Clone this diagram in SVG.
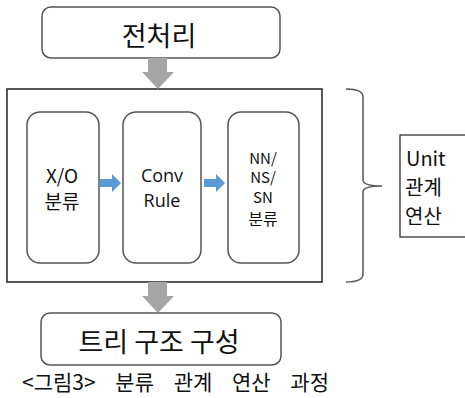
<svg xmlns="http://www.w3.org/2000/svg" width="465" height="398" viewBox="0 0 465 398">
<style>
  .t { font-family: "Noto Sans CJK KR", "Noto Sans", sans-serif; fill: #111; }
  .l { font-family: "Open Sans", "Noto Sans", sans-serif; fill: #111; }
  .box { fill: #fff; stroke: #555; stroke-width: 1.5; }
  .frame { fill: #fff; stroke: #222; stroke-width: 1.5; }
  .gray { fill: #a5a5a5; }
  .blue { fill: #5b9bd5; }
</style>
<rect width="465" height="398" fill="#fff"/>
<g id="frame"><rect class="frame" x="7" y="89" width="315" height="193"/></g>
<g id="preprocess">
  <rect class="box" x="42" y="7" width="238" height="51" rx="9"/>
  <text class="t" x="159" y="46" font-size="27" text-anchor="middle">전처리</text>
</g>
<g id="xo">
  <rect class="box" x="27" y="112" width="72" height="151" rx="13"/>
  <text class="t" x="62" y="183" font-size="19" text-anchor="middle">X/O</text>
  <text class="t" x="62" y="209" font-size="19" text-anchor="middle">분류</text>
</g>
<g id="conv">
  <rect class="box" x="123" y="112" width="78" height="151" rx="13"/>
  <text class="l" x="162" y="182" font-size="18" text-anchor="middle">Conv</text>
  <text class="l" x="162" y="207" font-size="18" text-anchor="middle">Rule</text>
</g>
<g id="nn">
  <rect class="box" x="228" y="112" width="71" height="151" rx="13"/>
  <text class="t" x="263" y="164" font-size="15" text-anchor="middle">NN/</text>
  <text class="t" x="263" y="183" font-size="15" text-anchor="middle">NS/</text>
  <text class="t" x="263" y="203" font-size="15" text-anchor="middle">SN</text>
  <text class="t" x="263" y="225" font-size="16" text-anchor="middle">분류</text>
</g>
<g id="unit">
  <rect x="400" y="135" width="70" height="102" fill="#fff" stroke="#222" stroke-width="1.2"/>
  <text class="t" x="406" y="166" font-size="20">Unit</text>
  <text class="t" x="405" y="195" font-size="20">관계</text>
  <text class="t" x="405" y="224" font-size="20">연산</text>
</g>
<g id="tree">
  <rect class="box" x="41" y="313" width="240" height="52" rx="9"/>
  <text class="t" x="159" y="352" font-size="27" text-anchor="middle">트리 구조 구성</text>
</g>
<g id="connectors">
  <polygon class="gray" points="148,58 167,58 167,72 174,72 158,89 142,72 148,72"/>
  <polygon class="gray" points="148,282 167,282 167,296 174,296 158,313 142,296 148,296"/>
  <polygon class="blue" points="100,179 112,179 112,174 121,183 112,192 112,187 100,187"/>
  <polygon class="blue" points="204,179 216,179 216,174 225,183 216,192 216,187 204,187"/>
  <path d="M346,89 Q363,89 363,97 L363,180 Q363,186 382,186 Q363,186 363,192 L363,274 Q363,282 346,282" fill="none" stroke="#555" stroke-width="1.5"/>
</g>
<text class="t" x="22" y="390" font-size="21" word-spacing="15">&lt;그림3&gt; 분류 관계 연산 과정</text>
</svg>
